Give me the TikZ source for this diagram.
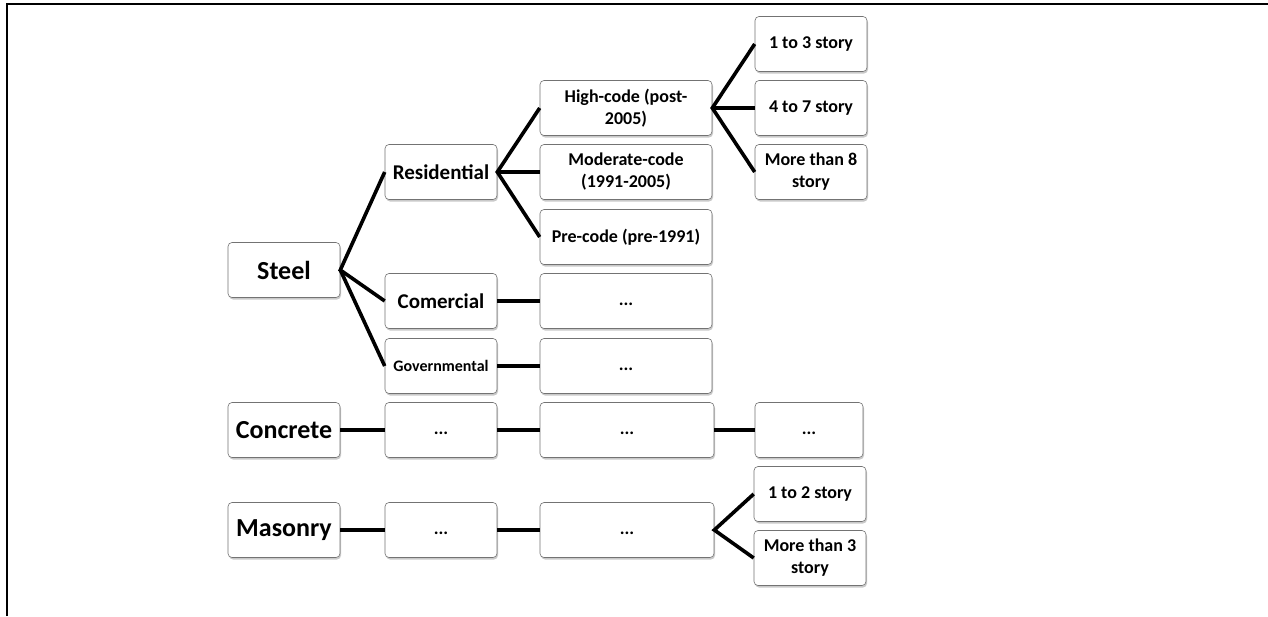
\documentclass[tikz,border=0pt]{standalone}
\usepackage{fontspec}
\setmainfont{Carlito}
\usetikzlibrary{shadows}
\newcommand{\dotstext}{\smash{\raisebox{-4pt}{...}}}
\begin{document}
\begin{tikzpicture}[x=1pt,y=-1pt,
  box/.style={draw=black!55, line width=0.6pt, rounded corners=4pt, fill=white,
    align=center, inner sep=1pt, font=\bfseries\fontsize{18}{22}\selectfont,
    drop shadow={shadow xshift=1pt, shadow yshift=-2pt, opacity=0.35, fill=black!60}},
  sbox/.style={box, minimum width=112pt, minimum height=55pt},
  wbox/.style={box, minimum width=172pt, minimum height=55pt},
  big/.style={font=\bfseries\fontsize{26}{28}\selectfont},
  mid/.style={font=\bfseries\fontsize{21}{23}\selectfont},
  dots/.style={font=\bfseries\fontsize{18}{20}\selectfont},
  link/.style={line width=3.6pt, black}]
\useasboundingbox (0,0) rectangle (1268,616);
\fill[white] (0,0) rectangle (1268,616);
\draw[line width=2pt] (7,616) -- (7,4) -- (1268,4);

% column 1
\node[sbox, big] (steel) at (284,270) {Steel};
\node[sbox, big] (concrete) at (284,430) {Concrete};
\node[sbox, big] (masonry) at (284,530) {Masonry};

% column 2
\node[sbox, mid] (res) at (441,172) {Residential};
\node[sbox, mid] (com) at (441,301) {Comercial};
\node[sbox, font=\bfseries\fontsize{16}{18}\selectfont] (gov) at (441,366) {Governmental};
\node[sbox, dots] (c1) at (441,430) {\dotstext};
\node[sbox, dots] (m1) at (441,530) {\dotstext};

% column 3
\node[wbox] (high) at (626,108) {High-code (post-\\2005)};
\node[wbox] (moder) at (626,172) {Moderate-code\\(1991-2005)};
\node[wbox] (pre) at (626,237) {Pre-code (pre-1991)};
\node[wbox, dots] (comd) at (626,301) {\dotstext};
\node[wbox, dots] (govd) at (626,366) {\dotstext};
\node[wbox, dots, minimum width=174pt] (c2) at (627,430) {\dotstext};
\node[wbox, dots, minimum width=174pt] (m2) at (627,530) {\dotstext};

% column 4
\node[sbox] (s13) at (811,44) {1 to 3 story};
\node[sbox] (s47) at (811,108) {4 to 7 story};
\node[sbox] (s8) at (811,172) {More than 8\\story};
\node[sbox, dots, minimum width=108pt] (c3) at (809,430) {\dotstext};
\node[sbox] (s12) at (810,494) {1 to 2 story};
\node[sbox] (s3) at (810,558) {More than 3\\story};

% connectors
\draw[link] (res.west) -- (steel.east) -- (com.west);
\draw[link] (steel.east) -- (gov.west);
\draw[link] (high.west) -- (res.east) -- (pre.west);
\draw[link] (res.east) -- (moder.west);
\draw[link] (s13.west) -- (high.east) -- (s8.west);
\draw[link] (high.east) -- (s47.west);
\draw[link] (com.east) -- (comd.west);
\draw[link] (gov.east) -- (govd.west);
\draw[link] (concrete.east) -- (c1.west);
\draw[link] (c1.east) -- (c2.west);
\draw[link] (c2.east) -- (c3.west);
\draw[link] (masonry.east) -- (m1.west);
\draw[link] (m1.east) -- (m2.west);
\draw[link] (s12.west) -- (m2.east) -- (s3.west);
\end{tikzpicture}
\end{document}
